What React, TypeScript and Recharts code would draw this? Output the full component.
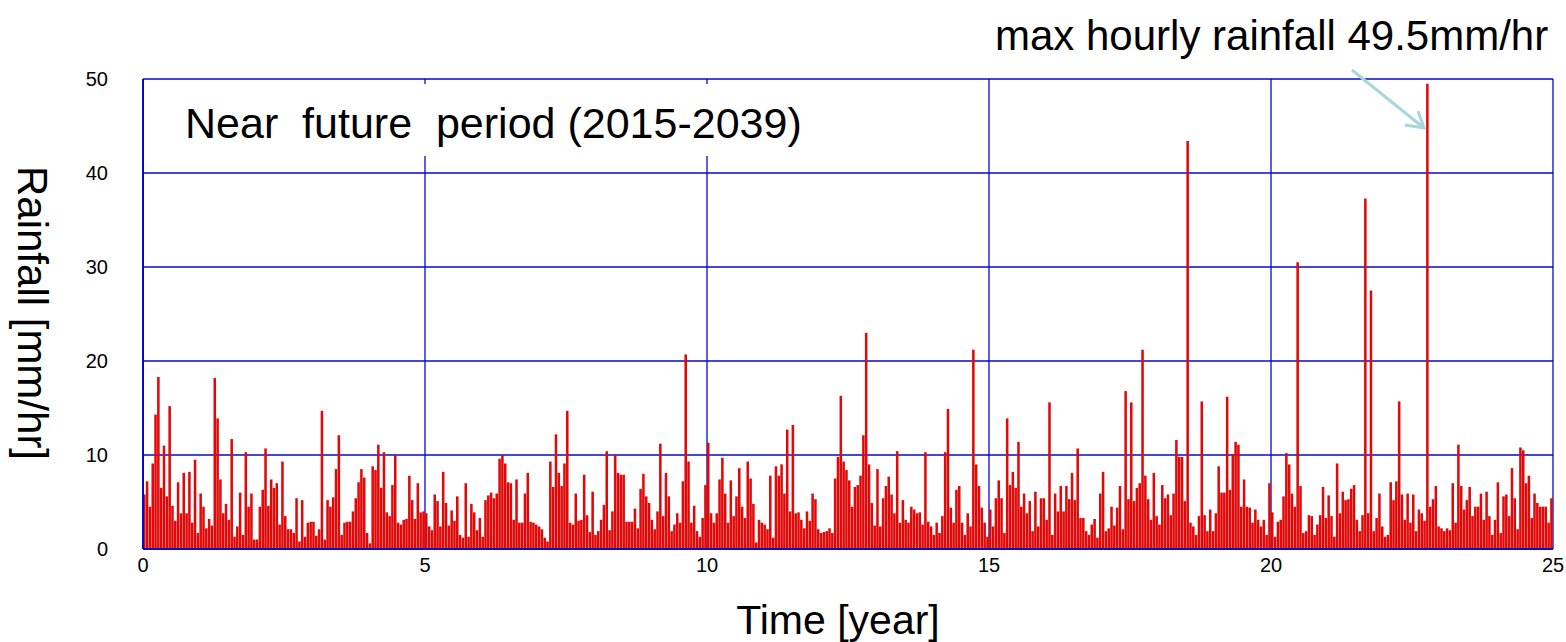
import { Bar, BarChart, CartesianGrid, XAxis, YAxis } from "recharts";

// each value = highest hourly rainfall (mm/hr) inside a 0.05-year bin
const BIN_YEARS = 0.05;

const years0to5 = [
  5.8, 7.2, 4.5, 9.1, 14.3, 18.3, 6.5, 11, 5.6, 15.2,
  4.6, 3, 7.1, 3.8, 8.1, 3.8, 8.2, 2.8, 9.5, 1.7,
  5.9, 4.5, 2.2, 3.2, 2.5, 18.2, 13.9, 7.4, 3.8, 4.8,
  3.1, 11.7, 1.3, 2.4, 6.0, 1.5, 10.3, 4.5, 5.9, 1.0,
  1.0, 4.5, 6.3, 10.7, 4.6, 7.4, 6.5, 7.0, 2.6, 9.3,
  3.5, 2.1, 2.1, 1.7, 5.4, 0.8, 5.2, 1.3, 2.8, 2.9,
  2.9, 1.4, 2.1, 14.7, 1.0, 5.2, 4.5, 5.5, 8.5, 12.1,
  1.5, 2.8, 2.9, 2.9, 4.0, 5.4, 7.1, 8.5, 7.6, 1.7,
  0.6, 8.8, 8.4, 11.1, 6.5, 10.3, 3.9, 3.5, 6.8, 10.0,
  2.8, 2.6, 3.1, 3.2, 7.8, 5.2, 3.2, 7.0, 3.9, 4.0,
];

const years5to10 = [
  3.8, 2.4, 2.0, 5.8, 5.1, 2.4, 8.2, 4.9, 2.5, 4.1,
  3.0, 5.6, 1.5, 1.2, 7.0, 1.3, 4.8, 3.9, 2.0, 3.3,
  1.3, 5.2, 5.7, 6.0, 5.4, 5.9, 9.6, 10.0, 9.1, 7.1,
  7.0, 3.1, 7.4, 2.8, 2.8, 5.9, 8.1, 2.9, 2.8, 2.6,
  2.4, 2.1, 1.2, 0.8, 9.3, 6.6, 12.2, 8.1, 6.7, 9.1,
  14.7, 2.8, 2.6, 5.9, 3.0, 3.1, 7.9, 3.6, 1.8, 6.1,
  1.5, 1.9, 3.1, 4.7, 10.4, 2.0, 4.0, 10.0, 8.1, 7.9,
  7.9, 2.9, 2.9, 2.9, 4.3, 2.2, 6.4, 8.0, 5.6, 4.9,
  3.1, 2.1, 4.0, 11.2, 3.5, 8.1, 5.6, 1.9, 2.6, 3.8,
  2.8, 7.2, 20.7, 9.3, 2.8, 4.6, 1.9, 1.3, 3.3, 6.8,
];

const years10to15 = [
  11.3, 3.8, 2.8, 3.8, 7.4, 9.7, 5.9, 2.8, 7.3, 3.5,
  5.6, 8.6, 4.5, 3.3, 9.3, 7.5, 4.8, 0.7, 3.1, 2.8,
  2.6, 2.1, 7.8, 1.2, 8.8, 7.8, 9.0, 5.9, 12.7, 4.0,
  13.2, 3.8, 3.9, 3.1, 2.2, 4.0, 3.0, 5.9, 5.3, 2.1,
  1.7, 1.8, 1.9, 2.2, 1.7, 7.5, 9.8, 16.3, 9.3, 8.4,
  7.3, 4.5, 6.6, 6.8, 7.8, 12.1, 23.0, 9.0, 4.9, 2.5,
  8.5, 2.4, 5.4, 6.7, 7.7, 5.8, 3.8, 10.4, 2.8, 5.2,
  3.1, 2.8, 4.5, 4.2, 3.8, 3.9, 2.6, 10.3, 2.9, 2.4,
  1.5, 2.8, 1.7, 3.5, 10.3, 14.9, 4.4, 2.8, 6.3, 6.7,
  2.8, 1.5, 3.8, 2.4, 21.2, 9.0, 6.7, 4.4, 2.8, 1.3,
];

const years15to20 = [
  4.2, 2.4, 5.4, 7.3, 5.4, 1.7, 13.9, 6.8, 8.2, 6.5,
  11.4, 4.5, 5.9, 3.8, 5.1, 1.9, 6.1, 2.4, 5.4, 5.4,
  3.1, 15.6, 1.5, 5.9, 4.0, 6.7, 4.0, 6.7, 5.3, 8.1,
  5.2, 10.7, 3.3, 3.3, 1.9, 1.5, 2.6, 3.2, 1.2, 5.9,
  8.2, 1.9, 2.2, 4.5, 2.5, 4.4, 6.7, 2.1, 16.8, 5.3,
  15.6, 5.1, 6.5, 7.0, 21.2, 7.8, 5.3, 3.1, 8.1, 3.5,
  2.6, 6.8, 5.4, 5.8, 3.6, 5.9, 11.6, 9.8, 9.8, 5.1,
  43.4, 2.8, 2.4, 1.5, 3.5, 15.7, 3.6, 1.9, 4.2, 1.9,
  3.8, 8.8, 6.0, 6.0, 16.2, 6.3, 10.1, 11.4, 11.1, 4.5,
  7.4, 4.5, 4.4, 2.8, 4.2, 3.1, 2.4, 3.1, 1.5, 7.0,
];

const years20to25 = [
  3.9, 1.3, 2.9, 3.1, 5.6, 10.2, 9.0, 5.9, 4.5, 30.5,
  6.7, 1.7, 1.9, 3.6, 3.5, 1.5, 2.6, 3.6, 6.6, 3.3,
  5.7, 3.5, 1.3, 9.1, 3.8, 6.1, 5.2, 5.3, 6.4, 6.8,
  3.1, 1.9, 3.6, 37.3, 3.8, 27.5, 1.9, 3.3, 5.9, 2.4,
  1.3, 1.5, 7.1, 5.2, 7.2, 15.7, 5.8, 3.1, 5.9, 2.8,
  5.8, 1.9, 4.2, 3.8, 3.0, 49.5, 4.5, 5.3, 6.7, 2.4,
  2.2, 1.9, 2.2, 2.0, 7.0, 2.8, 11.1, 6.7, 4.2, 5.2,
  6.6, 3.5, 4.5, 4.5, 5.9, 3.1, 6.1, 3.5, 1.5, 3.1,
  7.1, 1.7, 5.6, 5.8, 3.5, 8.6, 5.4, 2.1, 10.8, 10.5,
  7.0, 7.8, 3.3, 5.9, 4.9, 4.5, 4.5, 4.5, 2.8, 5.4,
];

const xTicks = [0, 5, 10, 15, 20, 25];
const yTicks = [0, 10, 20, 30, 40, 50];

const periodLabel = "Near  future  period (2015-2039)";
const maxLabel = "max hourly rainfall 49.5mm/hr";
const xTitle = "Time [year]";
const yTitle = "Rainfall [mm/hr]";

const data = [...years0to5, ...years5to10, ...years10to15, ...years15to20, ...years20to25].map(
  (rain, i) => ({ t: (i + 0.5) * BIN_YEARS, rain })
);

const FONT = '"Liberation Sans", Arial, sans-serif';
const BLUE = "#0808c8";
const RED = "#e00808";
const ARROW = "#a8d6da";

export default function App() {
  return (
    <div
      style={{
        position: "absolute",
        left: 0,
        top: 0,
        width: 1566,
        height: 642,
        background: "#fff",
        fontFamily: FONT,
      }}
    >
      <BarChart
        width={1566}
        height={642}
        data={data}
        margin={{ top: 79, right: 13, bottom: 53, left: 0 }}
      >
        <CartesianGrid stroke={BLUE} strokeWidth={1.3} />
        <XAxis
          type="number"
          dataKey="t"
          domain={[0, 25]}
          ticks={xTicks}
          interval={0}
          allowDataOverflow
          height={40}
          tickLine={false}
          tickSize={0}
          tickMargin={9}
          axisLine={{ stroke: BLUE, strokeWidth: 2 }}
          tick={{ fill: "#000", fontSize: 20, fontFamily: FONT }}
        />
        <YAxis
          type="number"
          domain={[0, 50]}
          ticks={yTicks}
          interval={0}
          allowDataOverflow
          width={143}
          tickLine={false}
          tickSize={0}
          tickMargin={35}
          axisLine={{ stroke: BLUE, strokeWidth: 2 }}
          tick={{ fill: "#000", fontSize: 20, fontFamily: FONT }}
        />
        <Bar dataKey="rain" fill={RED} barSize={3} isAnimationActive={false} />
      </BarChart>

      <svg
        width={1566}
        height={642}
        style={{ position: "absolute", left: 0, top: 0, pointerEvents: "none" }}
        fontFamily={FONT}
      >
        <rect x={150} y={84} width={680} height={72} fill="#fff" />
        <text x={185} y={138} fontSize={43} fill="#000" style={{ whiteSpace: "pre" }}>
          {periodLabel}
        </text>
        <text x={995} y={50} fontSize={42} fill="#000">
          {maxLabel}
        </text>
        <line x1={1352} y1={70} x2={1424} y2={128} stroke={ARROW} strokeWidth={3} />
        <polyline
          points="1405,125 1424,128 1418,111"
          fill="none"
          stroke={ARROW}
          strokeWidth={3}
        />
        <text x={838} y={634} fontSize={41} textAnchor="middle" fill="#000">
          {xTitle}
        </text>
        <text
          transform="translate(18,313) rotate(90)"
          fontSize={42}
          textAnchor="middle"
          fill="#000"
        >
          {yTitle}
        </text>
      </svg>
    </div>
  );
}
